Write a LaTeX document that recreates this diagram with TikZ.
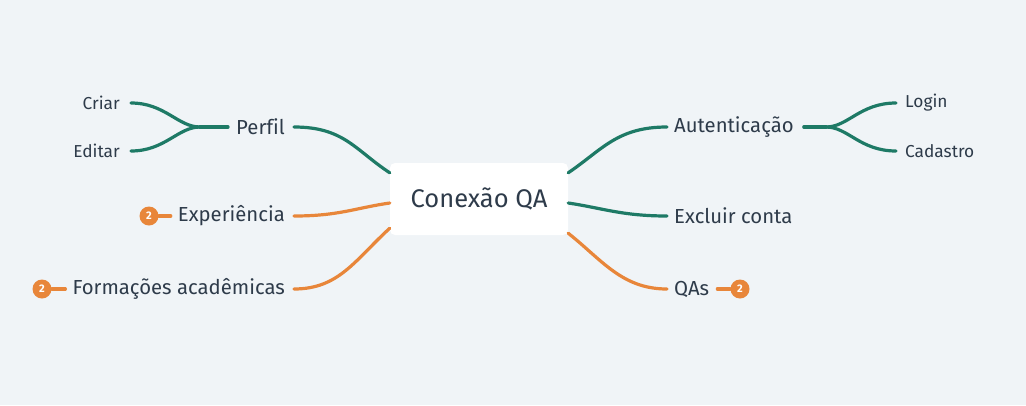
\documentclass[tikz,border=0pt]{standalone}
\usepackage{fontspec}
\setmainfont[Ligatures=NoCommon]{Fira Sans}
\usetikzlibrary{calc}
\definecolor{bg}{HTML}{F0F4F7}
\definecolor{grn}{HTML}{1E7A66}
\definecolor{org}{HTML}{E8863A}
\definecolor{txt}{HTML}{2E3B4A}
\tikzset{
  conn/.style={line width=3.2pt, line cap=round},
  gconn/.style={conn, draw=grn},
  oconn/.style={conn, draw=org},
  lvl1/.style={inner sep=0pt, text=txt, font=\fontsize{20.3}{22}\selectfont},
  lvl2/.style={inner sep=0pt, text=txt, font=\fontsize{17.3}{19}\selectfont},
  badge/.style={circle, fill=org, inner sep=0pt, minimum size=19pt, text=white, font=\fontsize{11}{12}\bfseries\selectfont},
}
\begin{document}
\begin{tikzpicture}[x=1pt,y=-1pt]
\fill[bg] (0,0) rectangle (1026,405);
\useasboundingbox (0,0) rectangle (1026,405);

\node[fill=white, rounded corners=5pt, minimum width=178pt, minimum height=72pt, inner sep=0pt, text=txt, font=\fontsize{25.5}{28}\selectfont] (root) at (479,199) {Conexão QA};

% left level 1
\node[lvl1, anchor=east] (perfil) at (285,127) {Perfil};
\node[lvl1, anchor=east] (exp) at (285,216) {Experiência};
\node[lvl1, anchor=east] (form) at (285,289) {Formações acadêmicas};
% right level 1
\node[lvl1, anchor=west] (aut) at (674,127) {Autenticação};
\node[lvl1, anchor=west] (excl) at (674,216) {Excluir conta};
\node[lvl1, anchor=west] (qas) at (674,289) {QAs};
% level 2
\node[lvl2, anchor=east] (criar) at (120,103) {Criar};
\node[lvl2, anchor=east] (editar) at (120,151) {Editar};
\node[lvl2, anchor=west] (login) at (905,103) {Login};
\node[lvl2, anchor=west] (cad) at (905,151) {Cadastro};
% badges
\node[badge] (b1) at (149,216) {2};
\node[badge] (b2) at (42,289) {2};
\node[badge] (b3) at (740,289) {2};

% connectors root -> level1
\draw[gconn] ($(perfil.east)+(9,0)$) .. controls +(50,0) and (355,150) .. ($(root.north west)+(0,10)$);
\draw[oconn] ($(exp.east)+(9,0)$) .. controls +(45,0) and (355,208) .. ($(root.west)+(0,4)$);
\draw[oconn] ($(form.east)+(9,0)$) .. controls +(45,0) and (355,260) .. ($(root.south west)+(0,-7)$);
\draw[gconn] ($(aut.west)+(-7,0)$) .. controls +(-50,0) and (602,150) .. ($(root.north east)+(0,10)$);
\draw[gconn] ($(excl.west)+(-7,0)$) .. controls +(-45,0) and (602,208) .. ($(root.east)+(0,4)$);
\draw[oconn] ($(qas.west)+(-7,0)$) .. controls +(-45,0) and (602,260) .. ($(root.south east)+(0,-2)$);

% sub branches
\coordinate (pf) at (200,127);
\draw[gconn] ($(perfil.west)+(-8,0)$) -- (pf);
\draw[gconn] (pf) .. controls (178,127) and (165,103) .. ($(criar.east)+(11,0)$);
\draw[gconn] (pf) .. controls (178,127) and (165,151) .. ($(editar.east)+(11,0)$);
\coordinate (af) at (826,127);
\draw[gconn] ($(aut.east)+(10,0)$) -- (af);
\draw[gconn] (af) .. controls (848,127) and (860,103) .. ($(login.west)+(-9,0)$);
\draw[gconn] (af) .. controls (848,127) and (860,151) .. ($(cad.west)+(-9,0)$);

% badge links
\draw[oconn] (b1.east) -- ($(exp.west)+(-7,0)$);
\draw[oconn] (b2.east) -- ($(form.west)+(-7,0)$);
\draw[oconn] ($(qas.east)+(8,0)$) -- (b3.west);
\end{tikzpicture}
\end{document}
